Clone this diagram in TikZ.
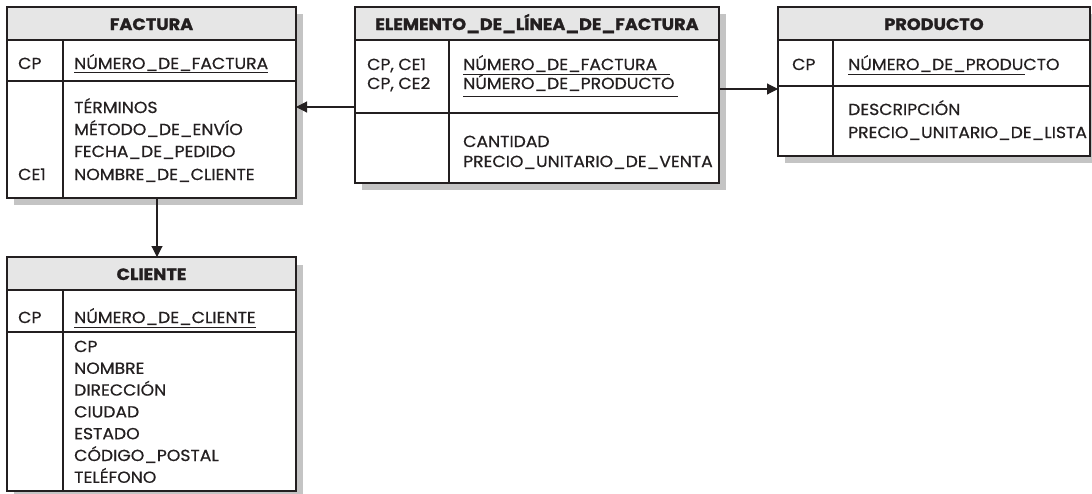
\documentclass[tikz,border=0pt]{standalone}
\usepackage{fontspec}
\setmainfont{Poppins}[FakeStretch=1.075, UprightFeatures={FakeBold=0.6}, BoldFeatures={FakeBold=1.2}]
\usetikzlibrary{arrows.meta}
\definecolor{ink}{HTML}{231F20}
\definecolor{hdr}{HTML}{E6E6E6}
\definecolor{shd}{HTML}{C4C4C4}
\tikzset{
  tbl/.style={draw=ink, line width=1.3pt, fill=white, inner sep=0pt, outer sep=0pt, anchor=north west},
  rule/.style={draw=ink, line width=1.1pt},
  ul/.style={draw=ink, line width=0.9pt},
  txt/.style={anchor=base west, inner sep=0pt, text=ink, font=\fontsize{16}{20}\selectfont},
  htxt/.style={anchor=base, inner sep=0pt, text=ink, font=\fontsize{16.4}{20}\selectfont\bfseries},
  conn/.style={draw=ink, line width=1.1pt, -{Triangle[length=11pt,width=11pt]}},
}
\begin{document}
\begin{tikzpicture}[x=1pt,y=-1pt]
\useasboundingbox (0,0) rectangle (1092,493);
% ---------- shadows
\fill[shd] (14,14) rectangle (303,205);
\fill[shd] (362,14) rectangle (726,190);
\fill[shd] (785,14) rectangle (1100,163);
\fill[shd] (14,265) rectangle (303,500);
% ---------- FACTURA
\node[tbl, minimum width=289pt, minimum height=191pt] (fact) at (7,7) {};
\fill[hdr] (7,7) rectangle (296,40);
\draw[rule] (7,40) -- (296,40);
\draw[rule] (7,81) -- (296,81);
\draw[rule] (63,40) -- (63,198);
\draw[draw=ink, line width=1.3pt] (7,7) rectangle (296,198);
\node[htxt] (factT) at (151.5,30) {FACTURA};
\node[txt] (f1) at (18,69) {CP};
\node[txt] (f2) at (74,69) {NÚMERO\_DE\_FACTURA};
\draw[ul] (74,72.5) -- (f2.east |- 0,72.5);
\node[txt] (f3) at (74,113) {TÉRMINOS};
\node[txt] (f4) at (74,135) {MÉTODO\_DE\_ENVÍO};
\node[txt] (f5) at (74,157) {FECHA\_DE\_PEDIDO};
\node[txt] (f6) at (74,180) {NOMBRE\_DE\_CLIENTE};
\node[txt] (f7) at (18,180) {CE1};
% ---------- ELEMENTO
\node[tbl, minimum width=364pt, minimum height=176pt] (elem) at (355,7) {};
\fill[hdr] (355,7) rectangle (719,40);
\draw[rule] (355,40) -- (719,40);
\draw[rule] (355,113) -- (719,113);
\draw[rule] (449,40) -- (449,183);
\draw[draw=ink, line width=1.3pt] (355,7) rectangle (719,183);
\node[htxt] (elemT) at (537,30) {ELEMENTO\_DE\_LÍNEA\_DE\_FACTURA};
\node[txt] (e1) at (367,70) {CP, CE1};
\node[txt] (e2) at (367,89) {CP, CE2};
\node[txt] (e3) at (463,70) {NÚMERO\_DE\_FACTURA};
\draw[ul] (463,74.5) -- (670,74.5);
\node[txt] (e4) at (463,89) {NÚMERO\_DE\_PRODUCTO};
\draw[ul] (463,96.5) -- (678,96.5);
\node[txt] (e5) at (463,147) {CANTIDAD};
\node[txt] (e6) at (463,167) {PRECIO\_UNITARIO\_DE\_VENTA};
% ---------- PRODUCTO
\node[tbl, minimum width=312pt, minimum height=149pt] (prod) at (778,7) {};
\fill[hdr] (778,7) rectangle (1090,40);
\draw[rule] (778,40) -- (1090,40);
\draw[rule] (778,86) -- (1090,86);
\draw[rule] (833,40) -- (833,156);
\draw[draw=ink, line width=1.3pt] (778,7) rectangle (1090,156);
\node[htxt] (prodT) at (934,30) {PRODUCTO};
\node[txt] (p1) at (792,70) {CP};
\node[txt] (p2) at (848,70) {NÚMERO\_DE\_PRODUCTO};
\draw[ul] (848,74) -- (1025,74);
\node[txt] (p3) at (848,115) {DESCRIPCIÓN};
\node[txt] (p4) at (848,138) {PRECIO\_UNITARIO\_DE\_LISTA};
% ---------- CLIENTE
\node[tbl, minimum width=289pt, minimum height=234pt] (cli) at (7,257) {};
\fill[hdr] (7,257) rectangle (296,290);
\draw[rule] (7,290) -- (296,290);
\draw[rule] (7,332) -- (296,332);
\draw[rule] (63,290) -- (63,491);
\draw[draw=ink, line width=1.3pt] (7,257) rectangle (296,491);
\node[htxt] (cliT) at (151.5,280) {CLIENTE};
\node[txt] (c0) at (18,323) {CP};
\node[txt] (c1) at (74,323) {NÚMERO\_DE\_CLIENTE};
\draw[ul] (74,327) -- (c1.east |- 0,327);
\node[txt] (c2) at (74,352) {CP};
\node[txt] (c3) at (74,373.8) {NOMBRE};
\node[txt] (c4) at (74,395.6) {DIRECCIÓN};
\node[txt] (c5) at (74,417.4) {CIUDAD};
\node[txt] (c6) at (74,439.2) {ESTADO};
\node[txt] (c7) at (74,461) {CÓDIGO\_POSTAL};
\node[txt] (c8) at (74,482.8) {TELÉFONO};
% ---------- connectors
\coordinate (yA) at (0,107);
\coordinate (yB) at (0,89);
\coordinate (xC) at (157,0);
\draw[conn] (elem.west |- yA) -- (fact.east |- yA);
\draw[conn] (elem.east |- yB) -- (prod.west |- yB);
\draw[conn] (fact.south -| xC) -- (cli.north -| xC);
\end{tikzpicture}
\end{document}
